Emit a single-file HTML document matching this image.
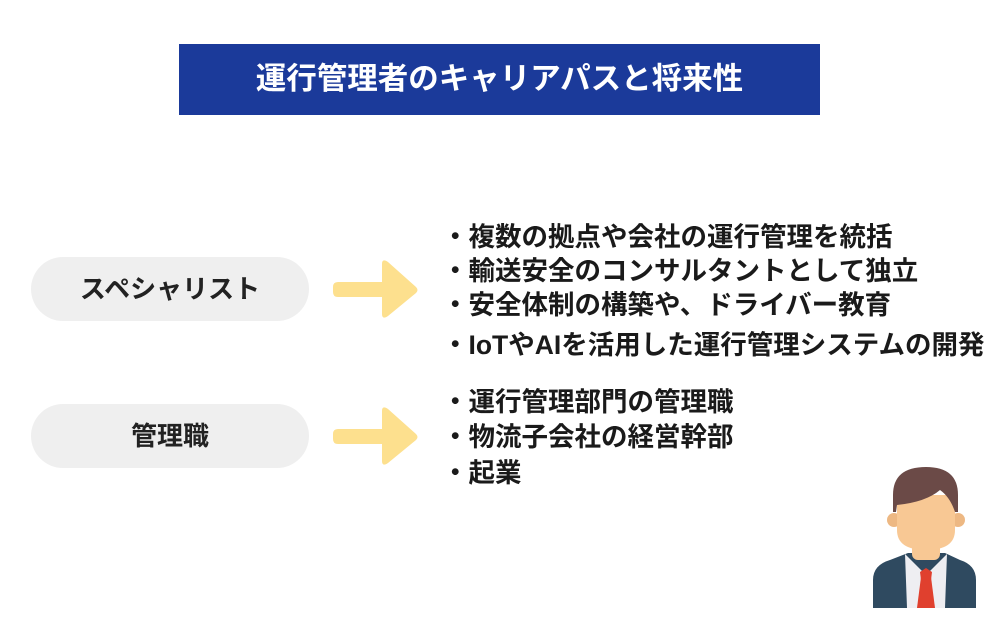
<!DOCTYPE html>
<html><head><meta charset="utf-8"><style>
body{margin:0;width:1000px;height:625px;background:#fff;position:relative;overflow:hidden;font-family:"Liberation Sans","Noto Sans CJK JP",sans-serif;}
.title{position:absolute;left:179px;top:44px;width:641px;height:71px;background:#1b3a9a;color:#fff;font-weight:bold;font-size:30.5px;text-align:center;line-height:71px;}
.pill{position:absolute;left:31px;width:278px;height:64px;border-radius:32px;background:#efefef;color:#222;font-weight:bold;font-size:26px;text-align:center;line-height:64px;}
.li{position:absolute;left:442px;font-size:26.5px;font-weight:bold;color:#1a1a1a;white-space:nowrap;line-height:34px;}
</style></head><body>
<div class="title">運行管理者のキャリアパスと将来性</div>
<div class="pill" style="top:257px">スペシャリスト</div>
<div class="pill" style="top:404px">管理職</div>
<svg style="position:absolute;left:0;top:0" width="1000" height="625">
<path d="M338 282 H382 V264 Q382 258 388 262 L416 287 Q419 290 416 293 L388 316 Q382 320 382 314 V297 H338 Q333 297 333 292 V287 Q333 282 338 282Z" fill="#fde08e"/>
<path d="M338 429 H382 V411 Q382 405 388 409 L416 434 Q419 437 416 440 L388 463 Q382 467 382 461 V444 H338 Q333 444 333 439 V434 Q333 429 338 429Z" fill="#fde08e"/>
<g>
<path d="M873 608 V580 Q873 565 890 560 L908 553 H945 L960 560 Q976 565 976 580 V608Z" fill="#2f4a60"/>
<path d="M905 554 L926 575 L947 554 L945 608 H907Z" fill="#eeeef2"/>
<path d="M921 577 H931 L935 608 H917Z" fill="#e0402e"/>
<path d="M920 572 L926 568 L932 572 L931 580 H921Z" fill="#e0402e"/>
<rect x="912" y="538" width="28" height="22" rx="6" fill="#f8c894"/>
<circle cx="894" cy="520" r="7" fill="#edb883"/>
<circle cx="958" cy="520" r="7" fill="#edb883"/>
<path d="M897 495 H955 V530 Q955 550 926 550 Q897 550 897 530Z" fill="#f8c894"/>
<path d="M893 512 V495 Q893 467 926 467 Q958 467 958 495 V512 L955 512 Q950 497 940 490 Q926 502 897 505 L896 512Z" fill="#6b4a47"/>
</g>
</svg>
<div class="li" style="top:220px">・複数の拠点や会社の運行管理を統括</div>
<div class="li" style="top:254px">・輸送安全のコンサルタントとして独立</div>
<div class="li" style="top:288px">・安全体制の構築や、ドライバー教育</div>
<div class="li" style="top:328px">・IoTやAIを活用した運行管理システムの開発</div>
<div class="li" style="top:385px">・運行管理部門の管理職</div>
<div class="li" style="top:420px">・物流子会社の経営幹部</div>
<div class="li" style="top:456px">・起業</div>
</body></html>
